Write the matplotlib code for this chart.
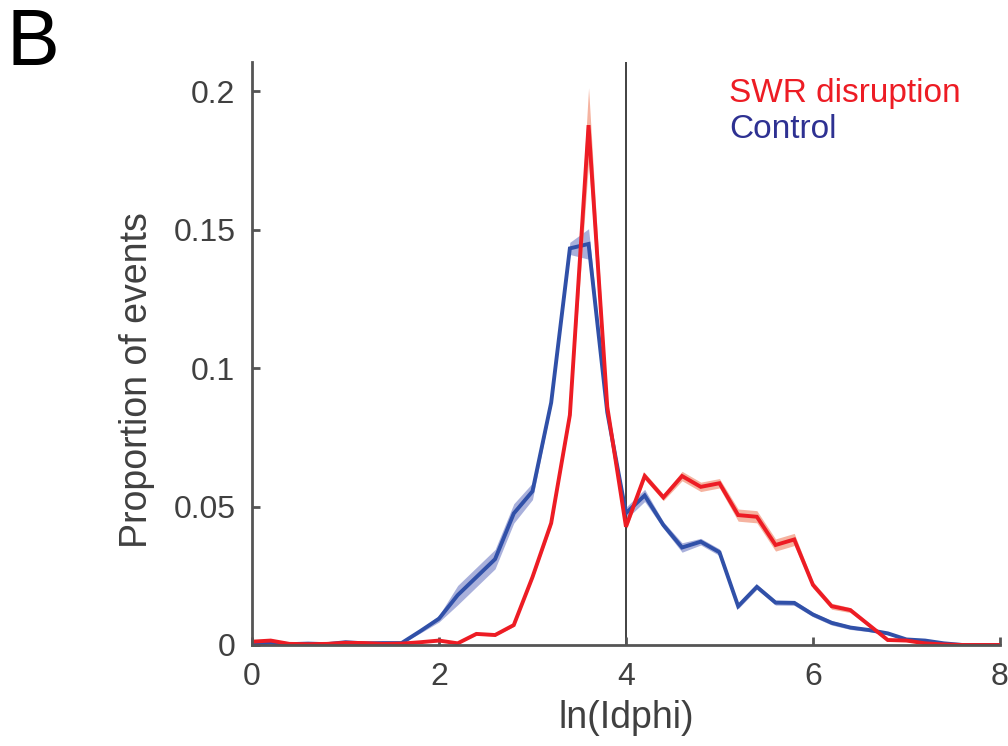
import numpy as np
import matplotlib
matplotlib.use("Agg")
import matplotlib.pyplot as plt

plt.rcParams['font.family'] = ['Liberation Sans', 'DejaVu Sans']

x = np.round(np.arange(0, 8.01, 0.2), 1)

control = [0.0005, 0.0008, 0.0003, 0.0005, 0.0003, 0.0010, 0.0006, 0.0007, 0.0007, 0.0050,
           0.0095, 0.0180, 0.0245, 0.0310, 0.0475, 0.0555, 0.0875, 0.1432, 0.1448, 0.0840,
           0.0476, 0.0540, 0.0433, 0.0352, 0.0373, 0.0335, 0.0140, 0.0210, 0.0153, 0.0152,
           0.0110, 0.0080, 0.0063, 0.0054, 0.0042, 0.0020, 0.0016, 0.0006, 0.0, 0.0, 0.0]
control_sem = [0.0003, 0.0003, 0.0002, 0.0002, 0.0002, 0.0003, 0.0002, 0.0002, 0.0002, 0.0007,
               0.0012, 0.0035, 0.0035, 0.0035, 0.0035, 0.0030, 0.0012, 0.0022, 0.0055, 0.0012,
               0.0022, 0.0022, 0.0012, 0.0017, 0.0012, 0.0012, 0.0009, 0.0009, 0.0009, 0.0009,
               0.0008, 0.0008, 0.0007, 0.0006, 0.0005, 0.0003, 0.0003, 0.0002, 0.0, 0.0, 0.0]

swr = [0.0012, 0.0016, 0.0004, 0.0003, 0.0004, 0.0008, 0.0007, 0.0004, 0.0005, 0.0010,
       0.0016, 0.0006, 0.0040, 0.0036, 0.0072, 0.0245, 0.0440, 0.0830, 0.1877, 0.0860,
       0.0427, 0.0610, 0.0533, 0.0610, 0.0571, 0.0584, 0.0469, 0.0463, 0.0361, 0.0381,
       0.0217, 0.0140, 0.0126, 0.0072, 0.0018, 0.0016, 0.0006, 0.0002, 0.0, 0.0, 0.0]
swr_sem = [0.0003, 0.0003, 0.0002, 0.0002, 0.0002, 0.0002, 0.0002, 0.0002, 0.0002, 0.0002,
           0.0003, 0.0002, 0.0004, 0.0004, 0.0005, 0.0008, 0.0012, 0.0017, 0.0135, 0.0017,
           0.0012, 0.0012, 0.0012, 0.0017, 0.0017, 0.0017, 0.0022, 0.0022, 0.0022, 0.0022,
           0.0012, 0.0011, 0.0009, 0.0007, 0.0004, 0.0003, 0.0002, 0.0002, 0.0, 0.0, 0.0]

control = np.array(control); control_sem = np.array(control_sem)
swr = np.array(swr); swr_sem = np.array(swr_sem)

fig = plt.figure(figsize=(10.08, 7.46), dpi=100)
ax = fig.add_axes([0.25, 0.1354, 0.742, 0.7815])

blue = '#3050A8'
red = '#ED1C24'

ax.fill_between(x, control - control_sem, control + control_sem, color='#8C96D0', alpha=0.75, lw=0)
ax.plot(x, control, color=blue, lw=2.8, solid_joinstyle='miter')
ax.fill_between(x, swr - swr_sem, swr + swr_sem, color='#F29A80', alpha=0.75, lw=0)
ax.plot(x, swr, color=red, lw=2.8, solid_joinstyle='miter')

ax.axvline(4, color='#333333', lw=1.3, zorder=1)

ax.set_xlim(0, 8)
ax.set_ylim(0, 0.2105)
ax.set_xticks([0, 2, 4, 6, 8])
ax.set_xticklabels(['0', '2', '4', '6', '8'])
ax.set_yticks([0, 0.05, 0.1, 0.15, 0.2])
ax.set_yticklabels(['0', '0.05', '0.1', '0.15', '0.2'])

for s in ['top', 'right']:
    ax.spines[s].set_visible(False)
for s in ['left', 'bottom']:
    ax.spines[s].set_color('#555555')
    ax.spines[s].set_linewidth(2.0)
ax.tick_params(direction='in', length=6, width=2.0, color='#555555',
               labelsize=23, labelcolor='#404040', pad=12)

ax.set_xlabel('ln(Idphi)', fontsize=27, color='#404040', labelpad=6)
ax.set_ylabel('Proportion of events', fontsize=27, color='#404040', labelpad=12)
ax.yaxis.set_label_coords(-0.13, 0.455)

fig.text(0.723, 0.863, 'SWR disruption', fontsize=24, color=red, ha='left', va='baseline')
fig.text(0.723, 0.815, 'Control', fontsize=24, color='#2E3192', ha='left', va='baseline')

fig.text(0.006, 0.913, 'B', fontsize=57, color='black', ha='left', va='baseline')

fig.savefig('out.png', dpi=100)
